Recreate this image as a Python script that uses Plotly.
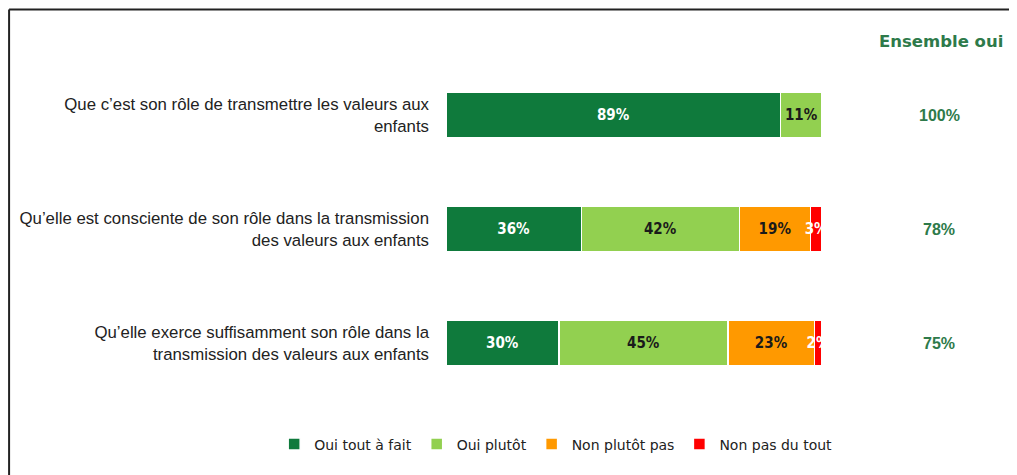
import plotly.graph_objects as go

categories = [
    "Que c\u2019est son rôle de transmettre les valeurs aux<br>enfants",
    "Qu\u2019elle est consciente de son rôle dans la transmission<br>des valeurs aux enfants",
    "Qu\u2019elle exerce suffisamment son rôle dans la<br>transmission des valeurs aux enfants",
]
series_names = ["Oui tout à fait", "Oui plutôt", "Non plutôt pas", "Non pas du tout"]
oui_tout_a_fait = [89, 36, 30]
oui_plutot = [11, 42, 45]
non_plutot_pas = [0, 19, 23]
non_pas_du_tout = [0, 3, 2]
ensemble_oui = [100, 78, 75]

colors = ["#0F7A3C", "#92D050", "#FF9900", "#FF0000"]
text_colors = ["#FFFFFF", "#1A1A1A", "#1A1A1A", "#FFFFFF"]
values = [oui_tout_a_fait, oui_plutot, non_plutot_pas, non_pas_du_tout]

fig = go.Figure()
for name, vals, col, tcol in zip(series_names, values, colors, text_colors):
    fig.add_trace(go.Bar(
        name=name,
        y=categories,
        x=vals,
        orientation="h",
        marker=dict(color=col, line=dict(color="white", width=1.5)),
        text=[f"{v}%" if v > 0 else "" for v in vals],
        textposition="inside",
        insidetextanchor="middle",
        constraintext="none",
        textangle=0,
        textfont=dict(color=tcol, size=15, weight="bold",
                      family="DejaVu Sans Condensed, Liberation Sans Narrow, sans-serif"),
        width=0.4,
        hoverinfo="skip",
    ))

green_txt = "#2E7A4A"
# "Ensemble oui" column
fig.add_annotation(x=1.316, y=1.048, xref="paper", yref="paper",
                   xanchor="center", yanchor="middle",
                   text="<b>Ensemble oui</b>", showarrow=False,
                   font=dict(color=green_txt, size=16.5, family="DejaVu Sans, Verdana"))
for cat, v in zip(categories, ensemble_oui):
    fig.add_annotation(x=1.312, y=cat, xref="paper", yref="y",
                       xanchor="center", yanchor="middle",
                       text=f"<b>{v}%</b>", showarrow=False,
                       font=dict(color=green_txt, size=16, family="Liberation Sans, Arial"))

# frame lines (top and left)
fig.add_shape(type="line", xref="paper", yref="paper",
              x0=-1.162, x1=1.55, y0=1.142, y1=1.142,
              line=dict(color="#222222", width=2))
fig.add_shape(type="line", xref="paper", yref="paper",
              x0=-1.162, x1=-1.162, y0=1.142, y1=-0.3,
              line=dict(color="#222222", width=2))

fig.update_layout(
    barmode="stack",
    width=1009, height=467,
    margin=dict(l=438, r=195, t=50, b=75, autoexpand=False),
    plot_bgcolor="white", paper_bgcolor="white",
    xaxis=dict(range=[0, 100], visible=False, fixedrange=True),
    yaxis=dict(autorange="reversed", showgrid=False, zeroline=False, showline=False,
               ticks="", ticklabelstandoff=16, automargin=False,
               tickfont=dict(size=16.8, color="#222222", family="Liberation Sans, Arial")),
    legend=dict(orientation="h", xref="paper", yref="paper",
                x=-0.457, xanchor="left", y=-0.13, yanchor="middle",
                font=dict(size=14, color="#222222", family="DejaVu Sans, sans-serif"),
                itemwidth=30, tracegroupgap=0, traceorder="normal"),
    showlegend=True,
)

fig.write_html("out.html")
